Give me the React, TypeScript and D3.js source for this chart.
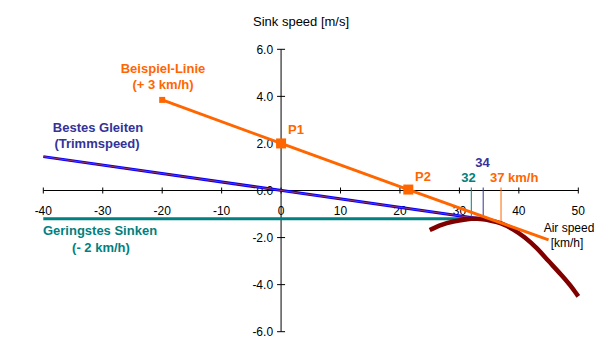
import React from "react";
import * as d3 from "d3";

const xTicks = [-40, -30, -20, -10, 0, 10, 20, 30, 40, 50];
const yTicks = [-6, -4, -2, 0, 2, 4, 6];

const polarSpeed = [25, 27, 29, 31, 32, 33, 34, 35, 37, 39, 41, 43, 45, 47, 49, 50];
const polarSink = [-1.68, -1.46, -1.32, -1.23, -1.2, -1.2, -1.22, -1.27, -1.4, -1.65, -2.0, -2.45, -3.0, -3.55, -4.15, -4.5];

const glideSpeed = [-40, 34];
const glideSink = [1.44, -1.22];

const minSinkSpeed = [-40, 32];
const minSinkValue = [-1.2, -1.2];

const exampleSpeed = [-20, 0, 21.4, 45];
const exampleSink = [3.85, 2.0, 0.04, -2.1];

const markerSpeed = [-20, 0, 21.4];
const markerSink = [3.85, 2.0, 0.04];
const markerSize = [6, 10, 10];

const dropSpeed = [32, 34, 37];
const dropSink = [-1.2, -1.22, -1.4];

const ORANGE = "#FF6600";
const NAVY = "#333399";
const TEAL = "#008080";
const DARKRED = "#800000";
const BLUE = "#0000FF";
const PURPLE = "#993366";

export default function App() {
  const x = d3.scaleLinear().domain([-40, 50]).range([43.3, 578.3]);
  const y = d3.scaleLinear().domain([-6, 6]).range([331.7, 49.3]);
  const x0 = x(0);
  const y0 = y(0);

  const line = d3
    .line<[number, number]>()
    .x((d) => x(d[0]))
    .y((d) => y(d[1]));
  const curve = d3
    .line<[number, number]>()
    .x((d) => x(d[0]))
    .y((d) => y(d[1]))
    .curve(d3.curveMonotoneX);

  const polar = polarSpeed.map((v, i) => [v, polarSink[i]] as [number, number]);
  const glide = glideSpeed.map((v, i) => [v, glideSink[i]] as [number, number]);
  const minSink = minSinkSpeed.map((v, i) => [v, minSinkValue[i]] as [number, number]);
  const example = exampleSpeed.map((v, i) => [v, exampleSink[i]] as [number, number]);
  const dropColors = [TEAL, NAVY, ORANGE];

  const font = "Arial, 'Liberation Sans', sans-serif";
  const bold = { fontFamily: font, fontSize: 13, fontWeight: 700 as const };

  return (
    <svg
      width={604}
      height={348}
      style={{ position: "absolute", left: 0, top: 0, background: "#fff" }}
    >
      <rect width={604} height={348} fill="#fff" />
      {/* axes */}
      <line x1={x(-40)} x2={x(50)} y1={y0} y2={y0} stroke="#000" strokeWidth={1} />
      <line x1={x0} x2={x0} y1={y(6)} y2={y(-6)} stroke="#000" strokeWidth={1} />
      {xTicks.map((t) => (
        <g key={"xt" + t}>
          <line x1={x(t)} x2={x(t)} y1={y0 - 3} y2={y0 + 3} stroke="#000" />
          <text x={x(t)} y={y0 + 24} textAnchor="middle" fontFamily={font} fontSize={12}>
            {t}
          </text>
        </g>
      ))}
      {yTicks.map((t) => (
        <g key={"yt" + t}>
          <line x1={x0 - 4} x2={x0 + 4} y1={y(t)} y2={y(t)} stroke="#000" />
          <text x={x0 - 8} y={y(t) + 4.5} textAnchor="end" fontFamily={font} fontSize={12}>
            {t.toFixed(1)}
          </text>
        </g>
      ))}
      <text x={253} y={26} fontFamily={font} fontSize={13}>
        Sink speed [m/s]
      </text>
      <text x={569} y={232} textAnchor="middle" fontFamily={font} fontSize={12}>
        Air speed
      </text>
      <text x={567} y={247} textAnchor="middle" fontFamily={font} fontSize={12}>
        [km/h]
      </text>

      {/* min sink horizontal */}
      <path d={line(minSink) || ""} fill="none" stroke={TEAL} strokeWidth={3} />
      {/* best glide */}
      <path d={line(glide) || ""} fill="none" stroke={BLUE} strokeWidth={3} />
      <path d={line(glide) || ""} fill="none" stroke={PURPLE} strokeWidth={1} />

      {/* vertical drop lines */}
      {dropSpeed.map((v, i) => (
        <line
          key={"d" + v}
          x1={x(v)}
          x2={x(v)}
          y1={y0 - 3}
          y2={y(dropSink[i])}
          stroke={dropColors[i]}
          strokeWidth={1}
        />
      ))}

      {/* polar curve */}
      <path d={curve(polar) || ""} fill="none" stroke={DARKRED} strokeWidth={4.5} />

      {/* example line */}
      <path d={line(example) || ""} fill="none" stroke={ORANGE} strokeWidth={3} />
      {markerSpeed.map((v, i) => (
        <rect
          key={"m" + i}
          x={x(v) - markerSize[i] / 2}
          y={y(markerSink[i]) - markerSize[i] / 2}
          width={markerSize[i]}
          height={markerSize[i]}
          fill={ORANGE}
        />
      ))}

      {/* labels */}
      <text x={163} y={73} textAnchor="middle" fill={ORANGE} {...bold}>
        Beispiel-Linie
      </text>
      <text x={163} y={89} textAnchor="middle" fill={ORANGE} {...bold}>
        (+ 3 km/h)
      </text>
      <text x={98} y={132} textAnchor="middle" fill={NAVY} {...bold}>
        Bestes Gleiten
      </text>
      <text x={97} y={148} textAnchor="middle" fill={NAVY} {...bold}>
        (Trimmspeed)
      </text>
      <text x={100} y={235} textAnchor="middle" fill={TEAL} {...bold}>
        Geringstes Sinken
      </text>
      <text x={101} y={252} textAnchor="middle" fill={TEAL} {...bold}>
        (- 2 km/h)
      </text>
      <text x={288} y={134} fill={ORANGE} {...bold}>
        P1
      </text>
      <text x={415} y={181} fill={ORANGE} {...bold}>
        P2
      </text>
      <text x={482.5} y={167} textAnchor="middle" fill={NAVY} {...bold}>
        34
      </text>
      <text x={468.5} y={182} textAnchor="middle" fill={TEAL} {...bold}>
        32
      </text>
      <text x={490} y={182} fill={ORANGE} {...bold}>
        37 km/h
      </text>
    </svg>
  );
}
